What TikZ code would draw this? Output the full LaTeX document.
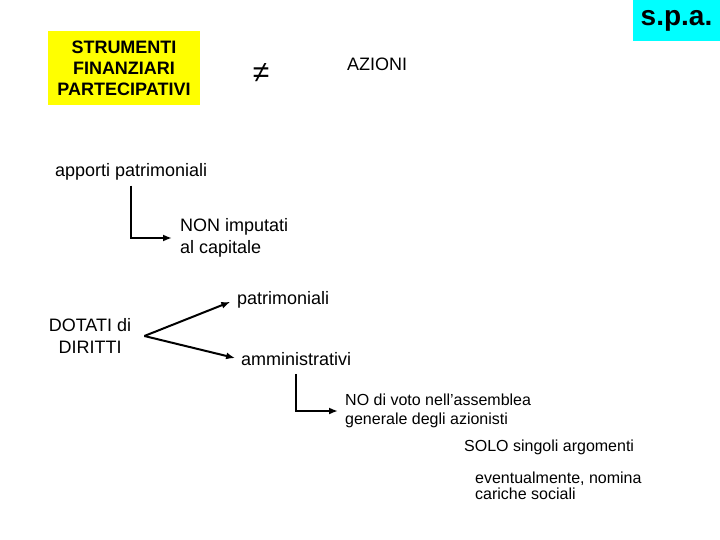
\documentclass[tikz,border=0pt]{standalone}
\usepackage{fontspec}
\setmainfont{Liberation Sans}
\usepackage{tikz}
\usetikzlibrary{arrows.meta, positioning}

\definecolor{boxyellow}{RGB}{255,255,0}
\definecolor{boxcyan}{RGB}{0,255,255}

\tikzset{
  txt/.style={font=\fontsize{18}{22}\selectfont, inner sep=2pt, align=left},
  small/.style={font=\fontsize{16}{18}\selectfont, inner sep=2pt, align=left},
  arr/.style={-{Latex[length=9pt,width=7pt]}, line width=2pt}
}

\begin{document}
\begin{tikzpicture}[x=1pt,y=-1pt]
    \useasboundingbox (0,0) rectangle (720,540);

    \node[fill=boxyellow, minimum width=152pt, minimum height=74pt, align=center,
          font=\fontsize{18}{21}\selectfont\bfseries] (sfp) at (124,68)
          {STRUMENTI\\FINANZIARI\\PARTECIPATIVI};
    \node[font=\fontsize{30}{32}\selectfont] (neq) at (261,73) {≠};
    \node[txt] (azioni) at (377,64) {AZIONI};
    \node[fill=boxcyan, minimum width=88pt, minimum height=41pt,
          font=\fontsize{28}{30}\selectfont\bfseries] (spa) at (676.5,20.5) {s.p.a.};

    \node[txt, anchor=west] (apporti) at (53,172) {apporti patrimoniali};
    \node[txt, anchor=west] (nonimp) at (178,238) {NON imputati\\al capitale};
    \draw[arr, shorten <=3pt, shorten >=6pt] (apporti) |- (nonimp);

    \node[txt, align=center] (dotati) at (90,336) {DOTATI di\\DIRITTI};
    \coordinate[right=11pt of dotati.east] (fork);
    \node[txt, anchor=west] (patr) at (235,300) {patrimoniali};
    \node[txt, anchor=west] (ammin) at (239,359) {amministrativi};
    \draw[arr, shorten >=5pt] (fork) -- (patr.west);
    \draw[arr, shorten >=4pt] (fork) -- (ammin.west);

    \node[small, anchor=west, font=\fontsize{16}{19}\selectfont] (novoto) at (343,411)
          {NO di voto nell'assemblea\\generale degli azionisti};
    \draw[arr, shorten <=6pt, shorten >=5pt] (ammin) |- (novoto);

    \node[small, anchor=west] (solo) at (462,447) {SOLO singoli argomenti};
    \node[small, anchor=west, font=\fontsize{16}{16}\selectfont] (event) at (473,486)
          {eventualmente, nomina\\cariche sociali};
\end{tikzpicture}
\end{document}
